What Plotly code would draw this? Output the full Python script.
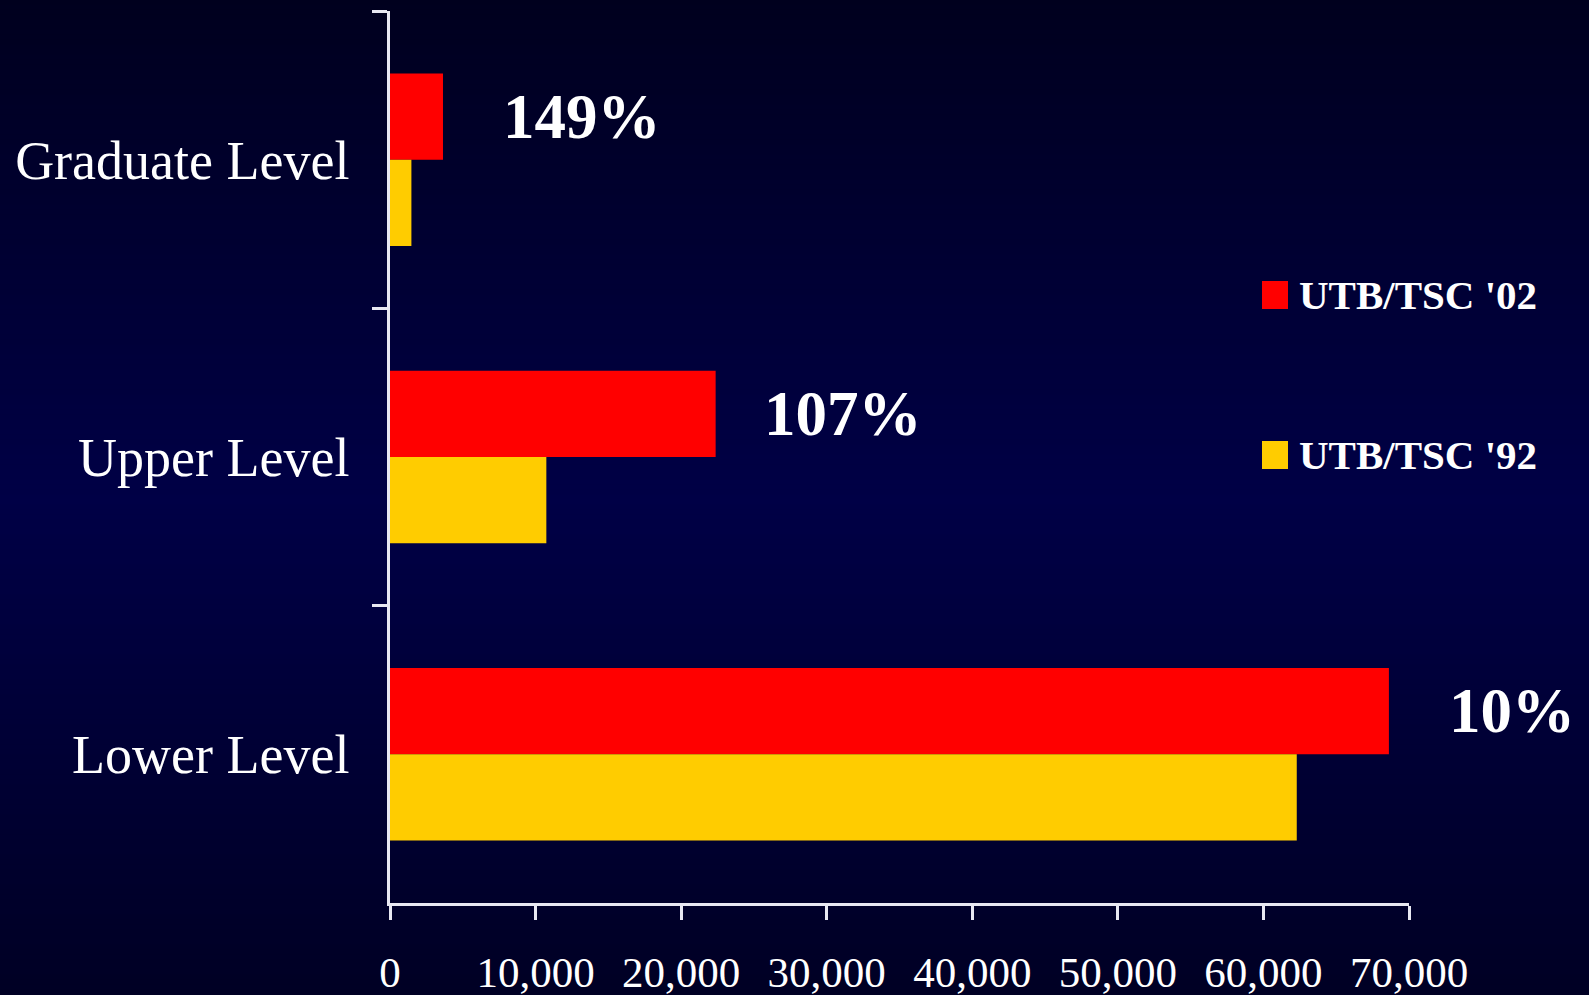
import plotly.graph_objects as go

# ---- data ----
categories = ["Graduate Level", "Upper Level", "Lower Level"]
series_names = ["UTB/TSC '02", "UTB/TSC '92"]
values_02 = [3640, 22370, 68620]
values_92 = [1470, 10740, 62290]
pct_labels = ["149%", "107%", "10%"]
x_tickvals = [0, 10000, 20000, 30000, 40000, 50000, 60000, 70000]
x_ticktext = ["0", "10,000", "20,000", "30,000", "40,000", "50,000", "60,000", "70,000"]

RED = "#ff0000"
GOLD = "#ffcc00"
AXIS = "#e8e8f2"
SERIF = "Liberation Serif, Times New Roman, serif"

W, H = 1589, 995
L, R, T, B = 390, 180, 11, 92
PW, PH = W - L - R, H - T - B

fig = go.Figure()
fig.add_trace(go.Bar(y=categories, x=values_02, orientation="h", name=series_names[0],
                     marker=dict(color=RED, line=dict(width=0)), showlegend=False))
fig.add_trace(go.Bar(y=categories, x=values_92, orientation="h", name=series_names[1],
                     marker=dict(color=GOLD, line=dict(width=0)), showlegend=False))

# background gradient (styling)
def px2py(y):
    return (H - B - y) / PH

def px2px(x):
    return (x - L) / PW

shapes = []
step = 5
for y0 in range(0, H, step):
    yc = y0 + step / 2
    if yc <= 500:
        b = 30 + (70 - 30) * (yc / 500)
    else:
        b = 70 - (70 - 36) * ((yc - 500) / 495)
    shapes.append(dict(type="rect", xref="paper", yref="paper",
                       x0=px2px(0) - 0.01, x1=px2px(W) + 0.01,
                       y0=px2py(y0 + step + 0.5), y1=px2py(y0 - 0.5),
                       fillcolor=f"rgb(0,0,{int(round(b))})", line=dict(width=0),
                       layer="below"))

# manual legend
legend_colors = [RED, GOLD]
legend_y = [295, 455]
annotations = []
for name, col, ly in zip(series_names, legend_colors, legend_y):
    shapes.append(dict(type="rect", xref="paper", yref="paper",
                       x0=px2px(1262), x1=px2px(1288), y0=px2py(ly + 14), y1=px2py(ly - 14),
                       fillcolor=col, line=dict(width=0), layer="above"))
    annotations.append(dict(xref="paper", yref="paper", x=px2px(1297), y=px2py(ly),
                            xanchor="left", yanchor="middle", showarrow=False, text=f"<b>{name}</b>",
                            font=dict(family=SERIF, size=41, color="white")))

# percentage labels
label_xshift = [58, 46, 58]
for cat, v, t, xs in zip(categories, values_02, pct_labels, label_xshift):
    annotations.append(dict(x=v, y=cat, xref="x", yref="y", xanchor="left", yanchor="middle",
                            xshift=xs, yshift=43, showarrow=False, text=f"<b>{t}</b>",
                            font=dict(family=SERIF, size=63, color="white")))

fig.update_layout(
    width=W, height=H, autosize=False,
    margin=dict(l=L, r=R, t=T, b=B, pad=0),
    paper_bgcolor="#000040", plot_bgcolor="rgba(0,0,0,0)",
    barmode="group", bargap=0.42, bargroupgap=0,
    shapes=shapes, annotations=annotations, showlegend=False,
    xaxis=dict(range=[0, 70000], tickvals=x_tickvals, ticktext=x_ticktext,
               showgrid=False, zeroline=False, showline=True, linecolor=AXIS, linewidth=2.5,
               ticks="outside", ticklen=14, tickwidth=2.5, tickcolor=AXIS,
               ticklabelstandoff=16,
               tickfont=dict(family=SERIF, size=43, color="white"), automargin=False),
    yaxis=dict(type="category", categoryorder="array", categoryarray=categories,
               autorange="reversed", tickson="boundaries",
               showgrid=False, zeroline=False, showline=True, linecolor=AXIS, linewidth=2.5,
               ticks="outside", ticklen=15, tickwidth=2.5, tickcolor=AXIS,
               ticklabelstandoff=27,
               tickfont=dict(family=SERIF, size=54, color="white"), automargin=False),
)

fig.write_html("out.html")
